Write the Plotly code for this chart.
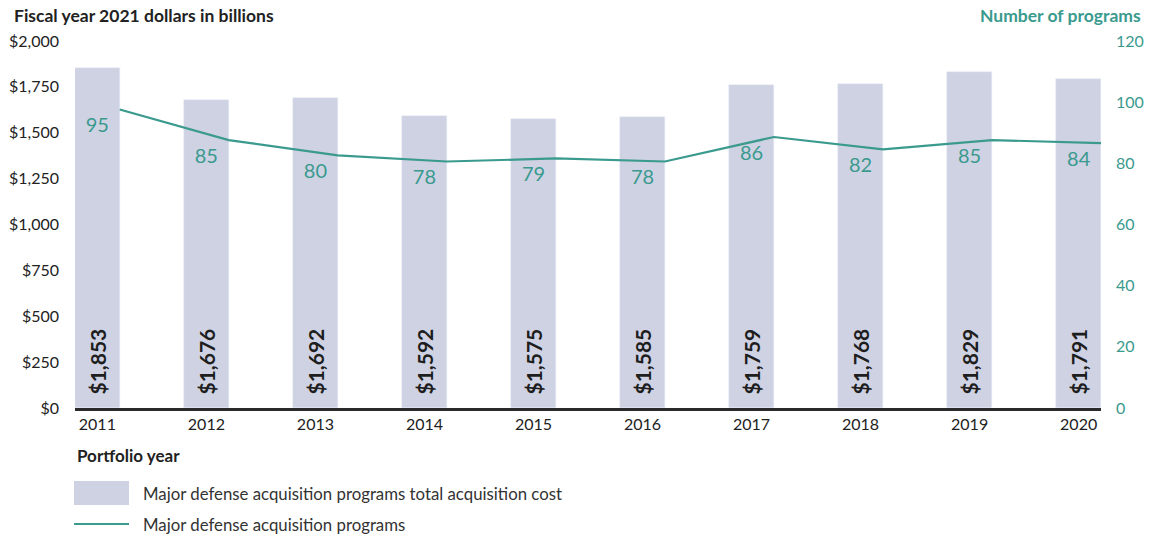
import plotly.graph_objects as go

years = ["2011", "2012", "2013", "2014", "2015", "2016", "2017", "2018", "2019", "2020"]
total_cost = [1853, 1676, 1692, 1592, 1575, 1585, 1759, 1768, 1829, 1791]
program_counts = [95, 85, 80, 78, 79, 78, 86, 82, 85, 84]

left_ticks = [0, 250, 500, 750, 1000, 1250, 1500, 1750, 2000]
left_tick_text = ["$0", "$250", "$500", "$750", "$1,000", "$1,250", "$1,500", "$1,750", "$2,000"]
right_ticks = [0, 20, 40, 60, 80, 100, 120]

BAR = "#cfd2e3"
TEAL = "#3a9a8e"
DARK = "#2a2a2a"
FONT = "Lato"

W, H = 1160, 537
# plot area in screenshot pixels
L, R, T, B = 75, 1101, 41, 408


def px(xp):
    return (xp - L) / (R - L)


def py(yp):
    return (B - yp) / (B - T)


fig = go.Figure()

fig.add_trace(go.Bar(
    x=years, y=total_cost, width=0.41, marker_color=BAR,
    text=["\u00a0\u00a0" + f"${v:,}" for v in total_cost], textposition="inside",
    insidetextanchor="start", textangle=-90,
    textfont=dict(family=FONT, size=21, color="#1e1e1e", weight="bold"),
    name="Major defense acquisition programs total acquisition cost",
    showlegend=False, hoverinfo="x+y",
))

fig.add_trace(go.Scatter(
    x=years, y=program_counts, xaxis="x2", yaxis="y3", mode="lines",
    line=dict(color=TEAL, width=2.2), showlegend=False,
    name="Major defense acquisition programs",
))

fig.add_trace(go.Scatter(
    x=years, y=program_counts, yaxis="y2", mode="text",
    text=[str(v) for v in program_counts], textposition="bottom center",
    textfont=dict(family=FONT, size=20, color=TEAL), showlegend=False,
    hoverinfo="skip",
))

annotations = [
    dict(text="<b>Fiscal year 2021 dollars in billions</b>", xref="paper", yref="paper",
         x=px(12), y=py(15), xanchor="left", yanchor="middle", showarrow=False,
         font=dict(family=FONT, size=17.5, color="#222")),
    dict(text="<b>Number of programs</b>", xref="paper", yref="paper",
         x=px(1143), y=py(16), xanchor="right", yanchor="middle", showarrow=False,
         font=dict(family=FONT, size=17.5, color=TEAL)),
    dict(text="<b>Portfolio year</b>", xref="paper", yref="paper",
         x=px(75), y=py(455), xanchor="left", yanchor="middle", showarrow=False,
         font=dict(family=FONT, size=17, color="#222")),
    dict(text="Major defense acquisition programs total acquisition cost", xref="paper", yref="paper",
         x=px(141), y=py(493), xanchor="left", yanchor="middle", showarrow=False,
         font=dict(family=FONT, size=16.8, color="#333")),
    dict(text="Major defense acquisition programs", xref="paper", yref="paper",
         x=px(141), y=py(524), xanchor="left", yanchor="middle", showarrow=False,
         font=dict(family=FONT, size=16.8, color="#333")),
]

shapes = [
    dict(type="rect", xref="paper", yref="paper", x0=px(74), x1=px(129), y0=py(481), y1=py(505),
         fillcolor=BAR, line=dict(width=0)),
    dict(type="line", xref="paper", yref="paper", x0=px(74), x1=px(129), y0=py(524), y1=py(524),
         line=dict(color=TEAL, width=2)),
]

fig.update_layout(
    width=W, height=H,
    margin=dict(l=L, r=W - R, t=T, b=H - B, pad=0),
    plot_bgcolor="white", paper_bgcolor="white",
    font=dict(family=FONT, size=16, color="#333"),
    bargap=0,
    xaxis=dict(type="category", range=[-0.205, 9.205], showgrid=False, showline=True,
               linecolor=DARK, linewidth=3, ticks="", tickfont=dict(size=16, color="#222"),
               automargin=False, fixedrange=True),
    xaxis2=dict(type="category", range=[-0.41, 9.0], overlaying="x", visible=False,
                automargin=False),
    yaxis=dict(range=[0, 2000], tickvals=left_ticks, ticktext=left_tick_text, showgrid=False,
               zeroline=False, ticks="", ticklabelstandoff=15, automargin=False,
               tickfont=dict(size=16, color="#222")),
    yaxis2=dict(range=[0, 120], tickvals=right_ticks, overlaying="y", side="right",
                showgrid=False, zeroline=False, ticks="", ticklabelstandoff=14,
                automargin=False, tickfont=dict(size=16, color=TEAL)),
    yaxis3=dict(range=[-2.6, 117.4], overlaying="y", anchor="x2", visible=False,
                automargin=False),
    annotations=annotations,
    shapes=shapes,
)

fig.write_html("out.html", config={"displayModeBar": False},
               post_script="document.body.style.margin='0';")
